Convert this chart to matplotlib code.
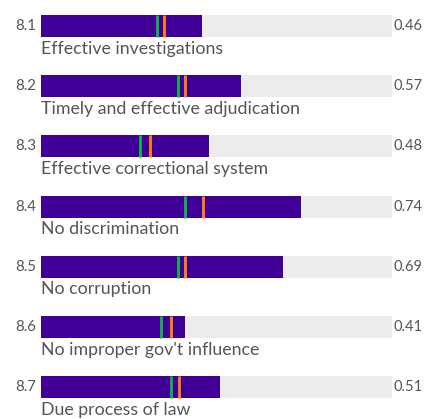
"""Sub-factor score bars with comparison markers."""

import matplotlib

matplotlib.use("Agg")
import matplotlib.pyplot as plt

codes = ["8.1", "8.2", "8.3", "8.4", "8.5", "8.6", "8.7"]
labels = [
    "Effective investigations",
    "Timely and effective adjudication",
    "Effective correctional system",
    "No discrimination",
    "No corruption",
    "No improper gov't influence",
    "Due process of law",
]
scores = [0.46, 0.57, 0.48, 0.74, 0.69, 0.41, 0.51]
green_marks = [0.33, 0.389, 0.282, 0.411, 0.39, 0.342, 0.369]
orange_marks = [0.351, 0.411, 0.311, 0.461, 0.41, 0.37, 0.392]

PURPLE = "#400098"
TRACK = "#ececec"
GREEN = "#12b04a"
ORANGE = "#ff7f0e"
TEXT = "#555555"

W, H = 426, 419
row_px = 60.2
fig = plt.figure(figsize=(W / 100, H / 100), dpi=100)
ax = fig.add_axes([41 / W, 0, 351 / W, 1])
ax.set_xlim(0, 1)
ax.set_ylim((H - 26) / row_px, -26 / row_px)
ax.axis("off")

bar_h = 22 / row_px
px = 1 / 351
plt.rcParams["font.family"] = ["Lato", "DejaVu Sans"]

for i, (code, label, s) in enumerate(zip(codes, labels, scores)):
    ax.barh(i, 1, height=bar_h, color=TRACK, left=0)
    ax.barh(i, s, height=bar_h, color=PURPLE, left=0)
    ax.vlines(green_marks[i], i - bar_h / 2, i + bar_h / 2, color=GREEN, linewidth=2.1)
    ax.vlines(orange_marks[i], i - bar_h / 2, i + bar_h / 2, color=ORANGE, linewidth=2.1)
    ax.text(-5 * px, i, code, ha="right", va="center", fontsize=10.8, color=TEXT)
    ax.text(1 + 2 * px, i, f"{s:.2f}", ha="left", va="center", fontsize=10.5, color=TEXT)
    ax.text(0, i + bar_h / 2 + 3.5 / row_px, label, ha="left", va="top", fontsize=12.8, color=TEXT)

fig.savefig("out.png", dpi=100)
plt.close(fig)
